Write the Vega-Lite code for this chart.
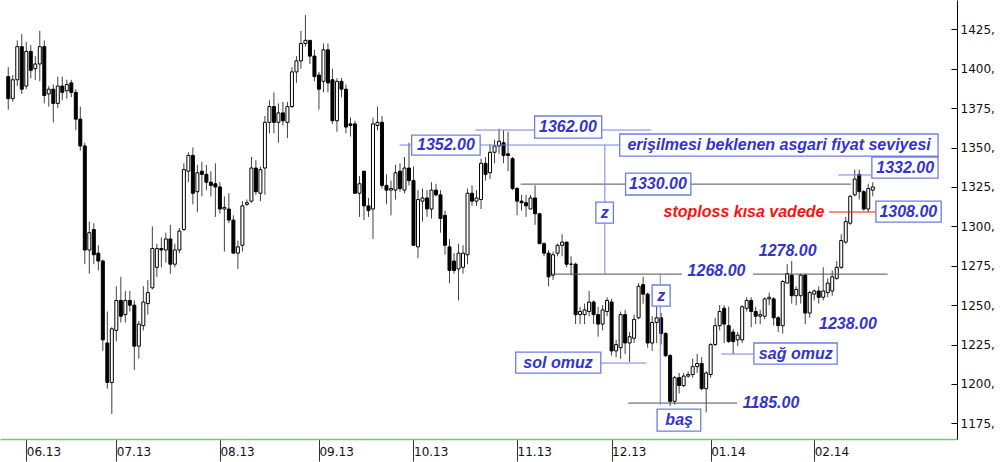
{
  "$schema": "https://vega.github.io/schema/vega-lite/v6.json",
  "width": 957,
  "height": 439,
  "autosize": {"type": "none"},
  "padding": {"left": 0, "top": 0, "right": 43, "bottom": 23},
  "background": "white",
  "config": {"view": {"stroke": null}},
  "datasets": {
    "candles": [
      {"i":-4,"o":1395,"h":1401,"l":1374,"c":1381},{"i":-3,"o":1381,"h":1396,"l":1379,"c":1393},{"i":-2,"o":1393,"h":1418,"l":1389,"c":1414},{"i":-1,"o":1414,"h":1422,"l":1384,"c":1387},
      {"i":0,"o":1389,"h":1417,"l":1387,"c":1411},{"i":1,"o":1411,"h":1415,"l":1394,"c":1399},{"i":2,"o":1400,"h":1408,"l":1393,"c":1403},{"i":3,"o":1403,"h":1424,"l":1392,"c":1414},
      {"i":4,"o":1414,"h":1418,"l":1378,"c":1383},{"i":5,"o":1384,"h":1389,"l":1376,"c":1387},{"i":6,"o":1387,"h":1390,"l":1366,"c":1378},{"i":7,"o":1378,"h":1395,"l":1375,"c":1389},
      {"i":8,"o":1389,"h":1395,"l":1380,"c":1385},{"i":9,"o":1386,"h":1393,"l":1381,"c":1390},{"i":10,"o":1391,"h":1393,"l":1382,"c":1385},{"i":11,"o":1385,"h":1387,"l":1361,"c":1368},
      {"i":12,"o":1368,"h":1376,"l":1348,"c":1351},{"i":13,"o":1351,"h":1353,"l":1276,"c":1285},{"i":14,"o":1285,"h":1303,"l":1270,"c":1296},{"i":15,"o":1298,"h":1302,"l":1276,"c":1282},
      {"i":16,"o":1283,"h":1288,"l":1272,"c":1278},{"i":17,"o":1278,"h":1279,"l":1221,"c":1228},{"i":18,"o":1226,"h":1246,"l":1197,"c":1201},{"i":19,"o":1201,"h":1236,"l":1181,"c":1235},
      {"i":20,"o":1234,"h":1262,"l":1227,"c":1253},{"i":21,"o":1253,"h":1268,"l":1239,"c":1243},{"i":22,"o":1244,"h":1259,"l":1239,"c":1253},{"i":23,"o":1253,"h":1259,"l":1246,"c":1250},
      {"i":24,"o":1250,"h":1253,"l":1209,"c":1224},{"i":25,"o":1224,"h":1240,"l":1216,"c":1238},{"i":26,"o":1237,"h":1262,"l":1234,"c":1252},{"i":27,"o":1251,"h":1266,"l":1244,"c":1258},
      {"i":28,"o":1261,"h":1300,"l":1260,"c":1286},{"i":29,"o":1274,"h":1289,"l":1268,"c":1286},{"i":30,"o":1286,"h":1293,"l":1274,"c":1285},{"i":31,"o":1285,"h":1296,"l":1277,"c":1292},
      {"i":32,"o":1292,"h":1301,"l":1270,"c":1276},{"i":33,"o":1276,"h":1289,"l":1274,"c":1285},{"i":34,"o":1285,"h":1299,"l":1283,"c":1297},{"i":35,"o":1298,"h":1340,"l":1297,"c":1336},
      {"i":36,"o":1335,"h":1347,"l":1328,"c":1345},{"i":37,"o":1345,"h":1350,"l":1314,"c":1321},{"i":38,"o":1322,"h":1339,"l":1309,"c":1334},{"i":39,"o":1335,"h":1341,"l":1319,"c":1333},
      {"i":40,"o":1333,"h":1339,"l":1323,"c":1328},{"i":41,"o":1328,"h":1335,"l":1319,"c":1326},{"i":42,"o":1327,"h":1340,"l":1306,"c":1325},{"i":43,"o":1325,"h":1328,"l":1308,"c":1311},
      {"i":44,"o":1311,"h":1319,"l":1284,"c":1312},{"i":45,"o":1311,"h":1321,"l":1302,"c":1304},{"i":46,"o":1304,"h":1307,"l":1283,"c":1283},{"i":47,"o":1283,"h":1291,"l":1273,"c":1287},
      {"i":48,"o":1288,"h":1316,"l":1284,"c":1313},{"i":49,"o":1314,"h":1317,"l":1313,"c":1315},{"i":50,"o":1316,"h":1344,"l":1315,"c":1337},{"i":51,"o":1337,"h":1342,"l":1320,"c":1322},
      {"i":52,"o":1321,"h":1338,"l":1316,"c":1336},{"i":53,"o":1337,"h":1370,"l":1320,"c":1366},{"i":54,"o":1366,"h":1380,"l":1359,"c":1376},{"i":55,"o":1376,"h":1385,"l":1359,"c":1366},
      {"i":56,"o":1366,"h":1378,"l":1353,"c":1372},{"i":57,"o":1372,"h":1379,"l":1364,"c":1367},{"i":58,"o":1366,"h":1379,"l":1356,"c":1376},{"i":59,"o":1376,"h":1401,"l":1375,"c":1398},
      {"i":60,"o":1398,"h":1408,"l":1391,"c":1405},{"i":61,"o":1405,"h":1424,"l":1400,"c":1416},{"i":62,"o":1416,"h":1434,"l":1414,"c":1418},{"i":63,"o":1418,"h":1418,"l":1403,"c":1408},
      {"i":64,"o":1408,"h":1412,"l":1392,"c":1395},{"i":65,"o":1396,"h":1398,"l":1374,"c":1387},{"i":66,"o":1392,"h":1416,"l":1385,"c":1412},{"i":67,"o":1412,"h":1416,"l":1385,"c":1391},
      {"i":68,"o":1393,"h":1400,"l":1365,"c":1367},{"i":69,"o":1367,"h":1394,"l":1360,"c":1392},{"i":70,"o":1392,"h":1394,"l":1382,"c":1387},{"i":71,"o":1387,"h":1390,"l":1359,"c":1363},
      {"i":72,"o":1365,"h":1369,"l":1357,"c":1364},{"i":73,"o":1365,"h":1367,"l":1321,"c":1321},{"i":74,"o":1321,"h":1332,"l":1306,"c":1327},{"i":75,"o":1335,"h":1335,"l":1304,"c":1313},
      {"i":76,"o":1313,"h":1318,"l":1306,"c":1310},{"i":77,"o":1311,"h":1369,"l":1292,"c":1365},{"i":78,"o":1364,"h":1376,"l":1361,"c":1366},{"i":79,"o":1366,"h":1370,"l":1324,"c":1326},
      {"i":80,"o":1326,"h":1333,"l":1314,"c":1323},{"i":81,"o":1323,"h":1329,"l":1307,"c":1324},{"i":82,"o":1323,"h":1339,"l":1317,"c":1334},{"i":83,"o":1335,"h":1340,"l":1322,"c":1324},
      {"i":84,"o":1323,"h":1344,"l":1321,"c":1337},{"i":85,"o":1337,"h":1353,"l":1326,"c":1329},{"i":86,"o":1329,"h":1338,"l":1288,"c":1288},{"i":87,"o":1287,"h":1323,"l":1280,"c":1317},
      {"i":88,"o":1316,"h":1324,"l":1303,"c":1318},{"i":89,"o":1318,"h":1323,"l":1306,"c":1311},{"i":90,"o":1311,"h":1328,"l":1305,"c":1323},{"i":91,"o":1323,"h":1327,"l":1319,"c":1320},
      {"i":92,"o":1320,"h":1323,"l":1296,"c":1305},{"i":93,"o":1307,"h":1310,"l":1282,"c":1288},{"i":94,"o":1287,"h":1292,"l":1264,"c":1272},{"i":95,"o":1278,"h":1283,"l":1270,"c":1272},
      {"i":96,"o":1273,"h":1289,"l":1253,"c":1283},{"i":97,"o":1274,"h":1288,"l":1270,"c":1283},{"i":98,"o":1282,"h":1324,"l":1276,"c":1321},{"i":99,"o":1321,"h":1326,"l":1313,"c":1316},
      {"i":100,"o":1316,"h":1323,"l":1313,"c":1318},{"i":101,"o":1317,"h":1343,"l":1311,"c":1340},{"i":102,"o":1340,"h":1344,"l":1329,"c":1333},{"i":103,"o":1334,"h":1352,"l":1330,"c":1347},
      {"i":104,"o":1347,"h":1355,"l":1340,"c":1351},{"i":105,"o":1351,"h":1362,"l":1346,"c":1354},{"i":106,"o":1353,"h":1361,"l":1340,"c":1345},{"i":107,"o":1346,"h":1360,"l":1335,"c":1345},
      {"i":108,"o":1343,"h":1344,"l":1323,"c":1324},{"i":109,"o":1324,"h":1325,"l":1307,"c":1316},{"i":110,"o":1316,"h":1320,"l":1310,"c":1315},{"i":111,"o":1315,"h":1320,"l":1306,"c":1313},
      {"i":112,"o":1311,"h":1320,"l":1311,"c":1318},{"i":113,"o":1318,"h":1326,"l":1301,"c":1308},{"i":114,"o":1308,"h":1308,"l":1289,"c":1289},{"i":115,"o":1289,"h":1290,"l":1281,"c":1283},
      {"i":116,"o":1283,"h":1285,"l":1262,"c":1268},{"i":117,"o":1269,"h":1284,"l":1266,"c":1282},{"i":118,"o":1283,"h":1289,"l":1281,"c":1288},{"i":119,"o":1288,"h":1295,"l":1281,"c":1290},
      {"i":120,"o":1290,"h":1290,"l":1274,"c":1276},{"i":121,"o":1276,"h":1281,"l":1269,"c":1276},{"i":122,"o":1276,"h":1277,"l":1238,"c":1244},{"i":123,"o":1244,"h":1249,"l":1238,"c":1246},
      {"i":124,"o":1244,"h":1251,"l":1238,"c":1247},{"i":125,"o":1246,"h":1259,"l":1243,"c":1252},{"i":126,"o":1252,"h":1253,"l":1238,"c":1244},{"i":127,"o":1244,"h":1249,"l":1230,"c":1238},
      {"i":128,"o":1238,"h":1250,"l":1234,"c":1247},{"i":129,"o":1246,"h":1255,"l":1243,"c":1253},{"i":130,"o":1252,"h":1254,"l":1218,"c":1221},{"i":131,"o":1221,"h":1228,"l":1217,"c":1225},
      {"i":132,"o":1223,"h":1246,"l":1216,"c":1244},{"i":133,"o":1244,"h":1247,"l":1219,"c":1226},{"i":134,"o":1226,"h":1233,"l":1214,"c":1230},{"i":135,"o":1229,"h":1244,"l":1226,"c":1241},
      {"i":136,"o":1242,"h":1264,"l":1241,"c":1262},{"i":137,"o":1263,"h":1268,"l":1251,"c":1257},{"i":138,"o":1257,"h":1258,"l":1223,"c":1226},{"i":139,"o":1226,"h":1243,"l":1221,"c":1239},
      {"i":140,"o":1239,"h":1249,"l":1226,"c":1242},{"i":141,"o":1242,"h":1245,"l":1225,"c":1232},{"i":142,"o":1232,"h":1233,"l":1217,"c":1218},{"i":143,"o":1218,"h":1219,"l":1186,"c":1189},
      {"i":144,"o":1189,"h":1205,"l":1187,"c":1204},{"i":145,"o":1204,"h":1207,"l":1194,"c":1199},{"i":146,"o":1199,"h":1207,"l":1198,"c":1205},{"i":147,"o":1205,"h":1208,"l":1204,"c":1206},
      {"i":148,"o":1206,"h":1216,"l":1204,"c":1211},{"i":149,"o":1211,"h":1219,"l":1207,"c":1213},{"i":150,"o":1213,"h":1217,"l":1196,"c":1197},{"i":151,"o":1197,"h":1208,"l":1182,"c":1207},
      {"i":152,"o":1206,"h":1226,"l":1204,"c":1225},{"i":153,"o":1225,"h":1242,"l":1224,"c":1237},{"i":154,"o":1237,"h":1250,"l":1234,"c":1246},{"i":155,"o":1248,"h":1250,"l":1226,"c":1238},
      {"i":156,"o":1237,"h":1249,"l":1226,"c":1227},{"i":157,"o":1233,"h":1235,"l":1219,"c":1227},{"i":158,"o":1228,"h":1233,"l":1224,"c":1231},{"i":159,"o":1228,"h":1250,"l":1226,"c":1249},
      {"i":160,"o":1248,"h":1255,"l":1246,"c":1253},{"i":161,"o":1253,"h":1255,"l":1236,"c":1246},{"i":162,"o":1246,"h":1249,"l":1238,"c":1243},{"i":163,"o":1243,"h":1247,"l":1238,"c":1244},
      {"i":164,"o":1243,"h":1255,"l":1241,"c":1254},{"i":165,"o":1254,"h":1258,"l":1250,"c":1255},{"i":166,"o":1254,"h":1255,"l":1237,"c":1242},{"i":167,"o":1242,"h":1243,"l":1233,"c":1237},
      {"i":168,"o":1237,"h":1266,"l":1232,"c":1265},{"i":169,"o":1264,"h":1276,"l":1264,"c":1270},{"i":170,"o":1269,"h":1278,"l":1251,"c":1256},{"i":171,"o":1256,"h":1262,"l":1250,"c":1260},
      {"i":172,"o":1256,"h":1270,"l":1251,"c":1269},{"i":173,"o":1269,"h":1270,"l":1238,"c":1245},{"i":174,"o":1245,"h":1259,"l":1242,"c":1258},{"i":175,"o":1257,"h":1260,"l":1253,"c":1259},
      {"i":176,"o":1259,"h":1262,"l":1251,"c":1255},{"i":177,"o":1255,"h":1274,"l":1253,"c":1259},{"i":178,"o":1258,"h":1267,"l":1255,"c":1264},{"i":179,"o":1259,"h":1272,"l":1256,"c":1268},
      {"i":180,"o":1267,"h":1278,"l":1266,"c":1274},{"i":181,"o":1274,"h":1295,"l":1273,"c":1291},{"i":182,"o":1290,"h":1306,"l":1289,"c":1303},{"i":183,"o":1302,"h":1320,"l":1301,"c":1319},
      {"i":184,"o":1320,"h":1336,"l":1319,"c":1330},{"i":185,"o":1333,"h":1336,"l":1317,"c":1322},{"i":186,"o":1322,"h":1323,"l":1310,"c":1311},{"i":187,"o":1311,"h":1327,"l":1309,"c":1324},
      {"i":188,"o":1323,"h":1328,"l":1319,"c":1325}
    ],
    "hsegs": [
      {"a":99.7,"b":138.8,"p":1361.1,"k":"leader"},
      {"a":82.9,"b":131.8,"p":1351.6,"k":"leader"},
      {"a":109.8,"b":183.2,"p":1326.8,"k":"level"},
      {"a":180.3,"b":187.8,"p":1332.6,"k":"leader"},
      {"a":178.3,"b":188.7,"p":1309.1,"k":"stop"},
      {"a":116.8,"b":145.6,"p":1269.7,"k":"level"},
      {"a":161.4,"b":191.3,"p":1269.7,"k":"level"},
      {"a":133.7,"b":157.9,"p":1187.9,"k":"level"},
      {"a":127.6,"b":137.7,"p":1213.3,"k":"leader"},
      {"a":154.4,"b":161.6,"p":1219.0,"k":"leader"}
    ],
    "vsegs": [
      {"x":128.5,"p1":1351.6,"p2":1269.7},
      {"x":140.8,"p1":1269.7,"p2":1186.6}
    ],
    "notes": [
      {"t":"1362.00","x":120.3,"y":1363.0,"a":112.9,"b":127.8,"p1":1356.0,"p2":1370.0,"k":"box"},
      {"t":"1352.00","x":93.2,"y":1351.5,"a":85.6,"b":100.8,"p1":1345.2,"p2":1357.9,"k":"box"},
      {"t":"erişilmesi beklenen asgari fiyat seviyesi","x":167.2,"y":1351.6,"a":131.8,"b":202.5,"p1":1344.6,"p2":1358.6,"k":"box"},
      {"t":"z","x":128.5,"y":1308.7,"a":126.5,"b":130.4,"p1":1302.1,"p2":1315.4,"k":"box"},
      {"t":"1330.00","x":140.3,"y":1326.9,"a":133.1,"b":147.6,"p1":1319.9,"p2":1333.8,"k":"box"},
      {"t":"1332.00","x":195.2,"y":1337.3,"a":187.8,"b":202.5,"p1":1330.6,"p2":1344.0,"k":"box"},
      {"t":"1308.00","x":195.9,"y":1309.4,"a":188.7,"b":203.2,"p1":1302.7,"p2":1316.0,"k":"box"},
      {"t":"z","x":141.0,"y":1256.0,"a":139.0,"b":143.0,"p1":1249.4,"p2":1262.8,"k":"box"},
      {"t":"baş","x":145.0,"y":1177.0,"a":140.1,"b":149.8,"p1":1170.1,"p2":1184.1,"k":"box"},
      {"t":"sol omuz","x":118.1,"y":1213.6,"a":108.7,"b":127.6,"p1":1206.9,"p2":1220.2,"k":"box"},
      {"t":"sağ omuz","x":170.9,"y":1219.3,"a":161.6,"b":180.1,"p1":1212.6,"p2":1226.0,"k":"box"},
      {"t":"1268.00","x":153.3,"y":1271.5,"k":"plain"},
      {"t":"1278.00","x":169.1,"y":1284.6,"k":"plain"},
      {"t":"1238.00","x":182.5,"y":1237.8,"k":"plain"},
      {"t":"1185.00","x":165.4,"y":1188.1,"k":"plain"},
      {"t":"stoploss kısa vadede","x":159.4,"y":1309.1,"k":"stop"}
    ]
  },
  "layer": [
    {
      "data": {"name": "candles"},
      "mark": {"type": "rule", "color": "#404040", "strokeWidth": 1},
      "encoding": {
        "x": {"field": "i", "type": "quantitative",
          "scale": {"domain": [-4.725, 205.6], "nice": false, "zero": false},
          "axis": {"title": null, "grid": false,
            "values": [0, 20, 43, 65, 86, 109, 130, 152, 175],
            "labelExpr": "datum.value == 0 ? '06.13' : datum.value == 20 ? '07.13' : datum.value == 43 ? '08.13' : datum.value == 65 ? '09.13' : datum.value == 86 ? '10.13' : datum.value == 109 ? '11.13' : datum.value == 130 ? '12.13' : datum.value == 152 ? '01.14' : '02.14'",
            "domainColor": "#6fcf6f", "domainWidth": 1.5,
            "tickColor": "#333333", "tickSize": 22,
            "labelAlign": "left", "labelBaseline": "top", "labelPadding": -15, "labelDx": 2,
            "labelFont": "DejaVu Sans", "labelFontSize": 12, "labelColor": "#111111",
            "labelFlush": false, "labelOverlap": false}},
        "y": {"field": "l", "type": "quantitative",
          "scale": {"domain": [1165.1, 1443.6], "nice": false, "zero": false},
          "axis": {"title": null, "grid": false, "orient": "right",
            "values": [1175, 1187.5, 1200, 1212.5, 1225, 1237.5, 1250, 1262.5, 1275, 1287.5, 1300, 1312.5, 1325, 1337.5, 1350, 1362.5, 1375, 1387.5, 1400, 1412.5, 1425, 1437.5],
            "labelExpr": "datum.value % 25 === 0 ? datum.value + ',' : ''",
            "domainColor": "#000000", "tickColor": "#000000", "tickSize": -6, "labelPadding": 9,
            "labelFont": "DejaVu Sans", "labelFontSize": 12, "labelColor": "#111111",
            "labelFlush": false, "labelOverlap": false,
            "encode": {"ticks": {"update": {"x2": {"signal": "datum.value % 25 === 0 ? -6 : -3"}}}}}},
        "y2": {"field": "h"}
      }
    },
    {
      "data": {"name": "candles"},
      "mark": {"type": "bar", "width": 3, "stroke": "#000000", "strokeWidth": 1},
      "encoding": {
        "x": {"field": "i", "type": "quantitative", "title": null},
        "y": {"field": "o", "type": "quantitative", "title": null},
        "y2": {"field": "c"},
        "fill": {"condition": {"test": "datum.c >= datum.o", "value": "#ffffff"}, "value": "#000000"}
      }
    },
    {
      "data": {"name": "hsegs"},
      "mark": {"type": "rule", "strokeWidth": 1},
      "encoding": {
        "x": {"field": "a", "type": "quantitative", "title": null},
        "x2": {"field": "b"},
        "y": {"field": "p", "type": "quantitative", "title": null},
        "color": {"field": "k", "type": "nominal", "legend": null,
          "scale": {"domain": ["leader", "level", "stop"], "range": ["#7383e6", "#505050", "#ff1010"]}}
      }
    },
    {
      "data": {"name": "vsegs"},
      "mark": {"type": "rule", "strokeWidth": 1, "color": "#7383e6"},
      "encoding": {
        "x": {"field": "x", "type": "quantitative", "title": null},
        "y": {"field": "p1", "type": "quantitative", "title": null},
        "y2": {"field": "p2"}
      }
    },
    {
      "data": {"name": "notes"},
      "transform": [{"filter": "datum.k === 'box'"}],
      "mark": {"type": "rect", "fill": "#ffffff", "stroke": "#6c7de4", "strokeWidth": 1.3},
      "encoding": {
        "x": {"field": "a", "type": "quantitative", "title": null},
        "x2": {"field": "b"},
        "y": {"field": "p1", "type": "quantitative", "title": null},
        "y2": {"field": "p2"}
      }
    },
    {
      "data": {"name": "notes"},
      "mark": {"type": "text", "font": "Liberation Sans", "fontSize": 16, "fontStyle": "italic", "fontWeight": "bold", "align": "center", "baseline": "middle"},
      "encoding": {
        "x": {"field": "x", "type": "quantitative", "title": null},
        "y": {"field": "y", "type": "quantitative", "title": null},
        "text": {"field": "t"},
        "color": {"field": "k", "type": "nominal", "legend": null,
          "scale": {"domain": ["box", "plain", "stop"], "range": ["#3434cc", "#3434cc", "#ff1010"]}}
      }
    }
  ],
  "resolve": {"scale": {"color": "independent"}}
}
